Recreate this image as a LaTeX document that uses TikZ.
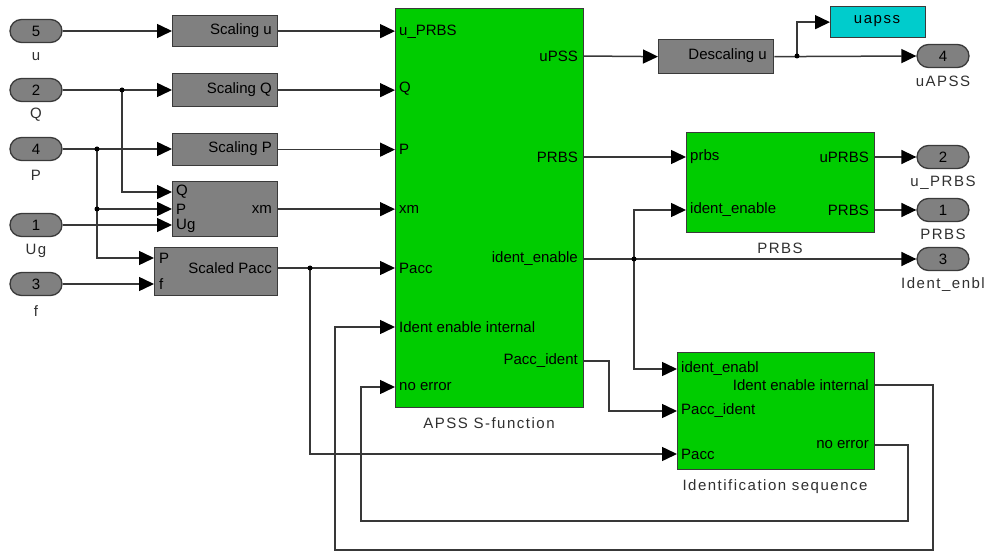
\documentclass[tikz,border=0pt]{standalone}
\usepackage{fontspec}
\setmainfont{Liberation Sans}
\newfontfamily\spacedfont[LetterSpace=10]{Liberation Sans}
\usetikzlibrary{arrows.meta,shapes.misc,calc}
\definecolor{blkgray}{HTML}{808080}
\definecolor{edgec}{HTML}{3A3A3A}
\definecolor{linec}{HTML}{383838}
\definecolor{simgreen}{HTML}{00CC00}
\definecolor{simcyan}{HTML}{00CCCC}
\definecolor{lblc}{HTML}{303030}
\begin{document}
\begin{tikzpicture}[x=1pt,y=-1pt,
  every node/.style={font=\fontsize{15}{17}\selectfont, inner sep=0pt},
  blk/.style={draw=edgec, line width=1.3pt, anchor=north west, inner sep=0pt},
  gblk/.style={blk, fill=blkgray},
  grblk/.style={blk, fill=simgreen},
  cyblk/.style={blk, fill=simcyan},
  port/.style={rounded rectangle, draw=edgec, fill=blkgray, line width=1.3pt,
    minimum width=52pt, minimum height=23pt, inner sep=0pt, font=\spacedfont\fontsize{15}{17}\selectfont},
  olbl/.style={text=lblc, font=\spacedfont\fontsize{15}{17}\selectfont},
  ilbl/.style={text=black},
  line/.style={draw=linec, line width=1.5pt},
  sig/.style={line, -{Triangle[length=15pt,width=14pt,color=black]}},
  dot/.style={fill=black}
]
\useasboundingbox[fill=white] (0,0) rectangle (988,553);

% ---------- input ports ----------
\node[port] (p5) at (36,31) {5};
\node[port] (p2) at (36,90) {2};
\node[port] (p4) at (36,149) {4};
\node[port] (p1) at (36,225) {1};
\node[port] (p3) at (36,284) {3};
\node[olbl] (lu) at (36,57) {u};
\node[olbl] (lq) at (36,115) {Q};
\node[olbl] (lp) at (36,175) {P};
\node[olbl] (lug) at (36,251) {Ug};
\node[olbl] (lf) at (36,311) {f};

% ---------- gray blocks ----------
\node[gblk, minimum width=105pt, minimum height=31pt] (su) at (172,15) {};
\node[gblk, minimum width=105pt, minimum height=33pt] (sq) at (172,73) {};
\node[gblk, minimum width=105pt, minimum height=32pt] (sp) at (172,133) {};
\node[gblk, minimum width=105pt, minimum height=55pt] (xmb) at (172,181) {};
\node[gblk, minimum width=123pt, minimum height=48pt] (spa) at (154,247) {};
\node[ilbl, anchor=east] at (272,31) {Scaling u};
\node[ilbl, anchor=east] at (272,90) {Scaling Q};
\node[ilbl, anchor=east] at (272,149) {Scaling P};
\node[ilbl, anchor=west] at (176,192) {Q};
\node[ilbl, anchor=west] at (176,209) {P};
\node[ilbl, anchor=west] at (176,226) {Ug};
\node[ilbl, anchor=east] at (272,209) {xm};
\node[ilbl, anchor=west] at (159,258) {P};
\node[ilbl, anchor=west] at (159,284) {f};
\node[ilbl, anchor=east] at (272,268) {Scaled Pacc};

% ---------- APSS S-function ----------
\node[grblk, minimum width=188pt, minimum height=399pt] (apss) at (395,8) {};
\node[ilbl, anchor=west] at (399,32) {u\_PRBS};
\node[ilbl, anchor=west] at (399,89) {Q};
\node[ilbl, anchor=west] at (399,149) {P};
\node[ilbl, anchor=west] at (399,209) {xm};
\node[ilbl, anchor=west] at (399,268) {Pacc};
\node[ilbl, anchor=west] at (399,327) {Ident enable internal};
\node[ilbl, anchor=west] at (399,387) {no error};
\node[ilbl, anchor=east] at (578,56) {uPSS};
\node[ilbl, anchor=east] at (578,157) {PRBS};
\node[ilbl, anchor=east] at (578,259) {ident\_enable};
\node[ilbl, anchor=east] at (578,361) {Pacc\_ident};
\node[olbl] at (489,423) {APSS S-function};

% ---------- Descaling, uapss ----------
\node[gblk, minimum width=115pt, minimum height=34pt] (desc) at (658,39) {};
\node[ilbl, anchor=east] at (767,56) {Descaling u};
\node[cyblk, minimum width=95pt, minimum height=31pt] (uap) at (830,6) {};
\node[olbl, text=black] at (877,21.5) {uapss};

% ---------- PRBS block ----------
\node[grblk, minimum width=188pt, minimum height=100pt] (prb) at (686,132) {};
\node[ilbl, anchor=west] at (690,157) {prbs};
\node[ilbl, anchor=west] at (690,210) {ident\_enable};
\node[ilbl, anchor=east] at (869,157) {uPRBS};
\node[ilbl, anchor=east] at (869,210) {PRBS};
\node[olbl] at (780,248) {PRBS};

% ---------- Identification sequence ----------
\node[grblk, minimum width=197pt, minimum height=117pt] (ids) at (677,352) {};
\node[ilbl, anchor=west] at (681,369) {ident\_enabl};
\node[ilbl, anchor=west] at (681,411) {Pacc\_ident};
\node[ilbl, anchor=west] at (681,454) {Pacc};
\node[ilbl, anchor=east] at (869,385) {Ident enable internal};
\node[ilbl, anchor=east] at (869,445) {no error};
\node[olbl] at (775,487) {Identification sequence};

% ---------- output ports ----------
\node[port] (o4) at (943,56) {4};
\node[port] (o2) at (943,157) {2};
\node[port] (o1) at (943,210) {1};
\node[port] (o3) at (943,259) {3};
\node[olbl] at (943,81) {uAPSS};
\node[olbl] at (943,183) {u\_PRBS};
\node[olbl] at (943,234) {PRBS};
\node[olbl] at (943,285) {Ident\_enbl};

% ---------- port coordinates ----------
\coordinate (xq) at (172,192);
\coordinate (xp) at (172,209);
\coordinate (xug) at (172,225);
\coordinate (spaP) at (154,258);
\coordinate (spaf) at (154,284);
\coordinate (spaout) at (277,268);
\coordinate (apIEI) at (395,327);
\coordinate (apNE) at (395,387);
\coordinate (uPSS) at (583,56);
\coordinate (aPRBS) at (583,157);
\coordinate (aIE) at (583,259);
\coordinate (aPI) at (583,361);
\coordinate (prPrbs) at (686,157);
\coordinate (prIE) at (686,210);
\coordinate (prU) at (874,157);
\coordinate (prP) at (874,210);
\coordinate (idsIE) at (677,369);
\coordinate (idsPI) at (677,411);
\coordinate (idsPacc) at (677,454);
\coordinate (idsIEI) at (874,385);
\coordinate (idsNE) at (874,445);
% branch points
\coordinate (bq) at (122,90);
\coordinate (bp) at (97,149);
\coordinate (bp2) at (97,209);
\coordinate (bpa) at (310,268);
\coordinate (bu) at (797,56);
\coordinate (bie) at (634,259);

% ---------- connectors ----------
\draw[sig] (p5.east) -- (p5.east -| su.west);
\draw[sig] (p2.east) -- (p2.east -| sq.west);
\draw[sig] (p4.east) -- (p4.east -| sp.west);
\draw[sig] (bq) |- (xq);
\draw[sig] (bp) |- (spaP);
\draw[sig] (bp2) -- (xp);
\draw[sig] (p1.east) -- (xug);
\draw[sig] (p3.east) -- (spaf);

\draw[sig] (su.east) -- (su.east -| apss.west);
\draw[sig] (sq.east) -- (sq.east -| apss.west);
\draw[sig] (sp.east) -- (sp.east -| apss.west);
\draw[sig] (xmb.east) -- (xmb.east -| apss.west);
\draw[sig] (spaout) -- (spaout -| apss.west);
\draw[sig] (bpa) |- (idsPacc);

\draw[sig] (uPSS) -- (desc.west);
\draw[sig] (desc.east) -- (o4.west);
\draw[sig] (bu) |- (uap.west);
\draw[sig] (aPRBS) -- (prPrbs);
\draw[sig] (aIE) -- (o3.west);
\draw[sig] (bie) |- (prIE);
\draw[sig] (bie) |- (idsIE);
\draw[sig] (prU) -- (o2.west);
\draw[sig] (prP) -- (o1.west);
\draw[sig] (aPI) -- ++(26,0) |- (idsPI);
\draw[sig] (idsIEI) -- ++(59,0) -- ++(0,165) -| ($(apIEI)+(-60,0)$) -- (apIEI);
\draw[sig] (idsNE) -- ++(34,0) -- ++(0,76) -| ($(apNE)+(-34,0)$) -- (apNE);

% ---------- branch dots ----------
\foreach \c in {bq,bp,bp2,bpa,bu,bie} \fill[dot] (\c) circle (2.5pt);
\end{tikzpicture}
\end{document}
